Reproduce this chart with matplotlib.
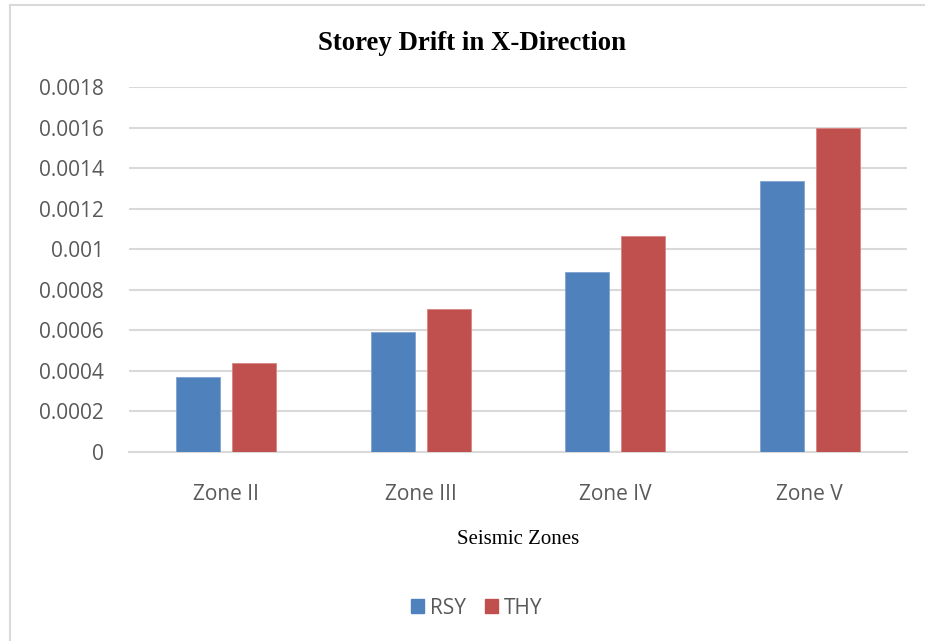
import matplotlib
matplotlib.use("Agg")
import matplotlib.pyplot as plt
from matplotlib.lines import Line2D
from matplotlib.patches import Patch
import numpy as np

categories = ["Zone II", "Zone III", "Zone IV", "Zone V"]
rsy = [0.00037, 0.000593, 0.000889, 0.001335]
thy = [0.000438, 0.000705, 0.001063, 0.001596]
yticks = [0, 0.0002, 0.0004, 0.0006, 0.0008, 0.001, 0.0012, 0.0014, 0.0016, 0.0018]
ytick_labels = ["0", "0.0002", "0.0004", "0.0006", "0.0008", "0.001", "0.0012", "0.0014", "0.0016", "0.0018"]

W, H = 925, 641
fig = plt.figure(figsize=(W / 100, H / 100), dpi=100)
ax = fig.add_axes([129 / W, 1 - 452 / H, (907 - 129) / W, (452 - 87) / H])

x = np.arange(len(categories))
bw = 0.226
off = 0.144
blue = "#4F81BD"
red = "#C0504D"
ax.bar(x - off, rsy, bw, color=blue, edgecolor="#7FA3D1", linewidth=0.6, zorder=3, label="RSY")
ax.bar(x + off, thy, bw, color=red, edgecolor="#D98583", linewidth=0.6, zorder=3, label="THY")

ax.set_xlim(-0.5, len(categories) - 0.5)
ax.set_ylim(0, 0.0018)
ax.set_yticks(yticks)
ax.set_yticklabels(ytick_labels)
ax.set_xticks(x)
ax.set_xticklabels(categories)

tick_font = "Open Sans"
for lab in ax.get_yticklabels() + ax.get_xticklabels():
    lab.set_fontfamily(tick_font)
    lab.set_fontsize(15)
    lab.set_color("#595959")
ax.tick_params(axis="y", length=0, pad=18)
ax.tick_params(axis="x", length=0, pad=23)

ax.grid(axis="y", color="#D9D9D9", linewidth=1.5, zorder=0)
ax.set_axisbelow(True)
for s in ["top", "right", "left"]:
    ax.spines[s].set_visible(False)
ax.spines["bottom"].set_color("#D9D9D9")
ax.spines["bottom"].set_linewidth(1.5)

fig.text(472 / W, 1 - 44 / H, "Storey Drift in X-Direction", ha="center", va="center",
         fontfamily="Liberation Serif", fontweight="bold", fontsize=19.3, color="black")
fig.text(518 / W, 1 - 540 / H, "Seismic Zones", ha="center", va="center",
         fontfamily="Liberation Serif", fontsize=15, color="black")

handles = [Patch(color=blue, label="RSY"), Patch(color=red, label="THY")]
leg = fig.legend(handles=handles, loc="center", bbox_to_anchor=(477 / W, 1 - 608 / H),
                 ncol=2, frameon=False, handlelength=0.62, handleheight=0.62,
                 handletextpad=0.3, columnspacing=0.9, borderpad=0,
                 prop={"family": tick_font, "size": 15})
for t in leg.get_texts():
    t.set_color("#595959")

# outer chart frame (left and top edges visible)
fig.add_artist(Line2D([9.5 / W, 9.5 / W], [0, 1 - 4.5 / H], transform=fig.transFigure,
                      color="#D9D9D9", linewidth=1.5))
fig.add_artist(Line2D([9.5 / W, 1], [1 - 4.5 / H, 1 - 4.5 / H], transform=fig.transFigure,
                      color="#D9D9D9", linewidth=1.5))

fig.savefig("out.png", dpi=100)
